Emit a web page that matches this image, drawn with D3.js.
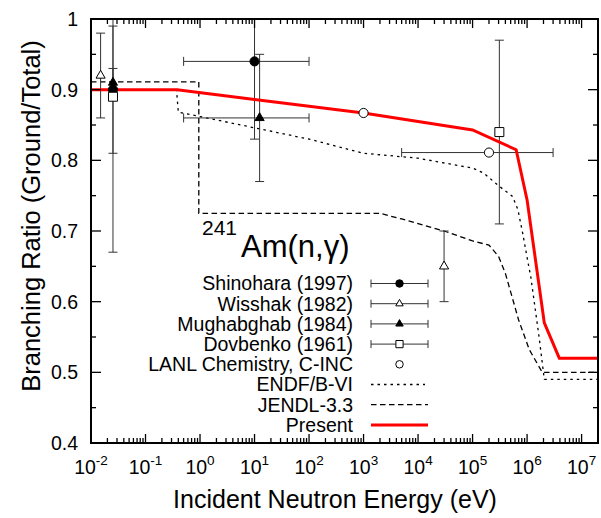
<!DOCTYPE html>
<html>
<head>
<meta charset="utf-8">
<script src="https://cdn.jsdelivr.net/npm/d3@7"></script>
<style>
  body { margin: 0; background: #fff; }
  text { font-family: "Liberation Sans", Arial, sans-serif; fill: #000; }
</style>
</head>
<body>
<div id="vis"></div>
<script>
// evaluated curves, [energy (eV), ratio]
var present = [[0.01, 0.9], [0.38, 0.9], [10, 0.886], [1e3, 0.867], [1e5, 0.843],
  [6.3e5, 0.815], [1e6, 0.744], [2.07e6, 0.57], [3.9e6, 0.52], [2e7, 0.52]];
var endf = [[0.01, 0.9], [0.37, 0.9], [0.4, 0.868], [1, 0.862], [10, 0.846], [100, 0.83],
  [1e3, 0.81], [1e4, 0.803], [1e5, 0.789], [1.6e5, 0.782], [3e5, 0.764], [5.4e5, 0.749],
  [6.8e5, 0.73], [8.3e5, 0.697], [1.02e6, 0.659], [1.17e6, 0.635], [1.66e6, 0.55],
  [2.07e6, 0.49], [2e7, 0.49]];
var jendl = [[0.01, 0.911], [0.95, 0.911], [0.95, 0.725], [2e3, 0.725], [5e3, 0.717],
  [3e4, 0.70], [1e5, 0.686], [2e5, 0.68], [3e5, 0.664], [4e5, 0.64], [7e5, 0.574],
  [1.1e6, 0.532], [1.9e6, 0.50], [2e7, 0.50]];

// measurements: e = energy, v = value, lo/hi = vertical bar, elo/ehi = horizontal bar
var shinohara = [{ e: 0.0253, v: 0.90, lo: 0.81, hi: 0.99 },
  { e: 10, v: 0.94, lo: 0.83, hi: 1.05, elo: 0.5, ehi: 100 }];
var wisshak = [{ e: 0.015, v: 0.92, lo: 0.86, hi: 0.98 },
  { e: 3e4, v: 0.65, lo: 0.60, hi: 0.70 }];
var mughabghab = [{ e: 0.0253, v: 0.91, lo: 0.89, hi: 0.93 },
  { e: 12.4, v: 0.86, lo: 0.77, hi: 0.95, elo: 0.5, ehi: 100 }];
var dovbenko = [{ e: 0.0253, v: 0.89, lo: 0.67, hi: 1.11 },
  { e: 3.1e5, v: 0.84, lo: 0.71, hi: 0.97 }];
var lanl = [{ e: 1e3, v: 0.867 }, { e: 2e5, v: 0.811, elo: 5e3, ehi: 3e6 }];

var yTicks = [0.4, 0.5, 0.6, 0.7, 0.8, 0.9, 1];
var xDecades = [-2, -1, 0, 1, 2, 3, 4, 5, 6, 7];

var legendRows = ['Shinohara (1997)', 'Wisshak (1982)', 'Mughabghab (1984)', 'Dovbenko (1961)',
  'LANL Chemistry, C-INC', 'ENDF/B-VI', 'JENDL-3.3', 'Present'];

var W = 601, H = 518;
var margin = { top: 19, left: 91, right: 3, bottom: 75 };
var x = d3.scaleLog().domain([0.01, 2e7]).range([margin.left, W - margin.right]);
var y = d3.scaleLinear().domain([0.4, 1]).range([H - margin.bottom, margin.top]);

var svg = d3.select('#vis').append('svg').attr('width', W).attr('height', H);

svg.append('clipPath').attr('id', 'clip').append('rect')
  .attr('x', x.range()[0]).attr('y', y.range()[1])
  .attr('width', x.range()[1] - x.range()[0]).attr('height', y.range()[0] - y.range()[1]);

var plot = svg.append('g').attr('clip-path', 'url(#clip)');

// curves
var line = d3.line().x(function (d) { return x(d[0]); }).y(function (d) { return y(d[1]); });
plot.append('path').datum(endf).attr('d', line).attr('fill', 'none')
  .attr('stroke', '#000').attr('stroke-width', 1.3).attr('stroke-dasharray', '2.5,4');
plot.append('path').datum(jendl).attr('d', line).attr('fill', 'none')
  .attr('stroke', '#000').attr('stroke-width', 1.3).attr('stroke-dasharray', '5.5,3.5');

// error bars
var barColor = '#333';
function errorBars(data) {
  data.forEach(function (d) {
    var cx = x(d.e), cy = y(d.v);
    if (d.lo !== undefined) {
      plot.append('line').attr('x1', cx).attr('x2', cx).attr('y1', y(d.lo)).attr('y2', y(d.hi))
        .attr('stroke', barColor).attr('stroke-width', 1);
      [d.lo, d.hi].forEach(function (v) {
        plot.append('line').attr('x1', cx - 4.5).attr('x2', cx + 4.5).attr('y1', y(v)).attr('y2', y(v))
          .attr('stroke', barColor).attr('stroke-width', 1);
      });
    }
    if (d.elo !== undefined) {
      plot.append('line').attr('x1', x(d.elo)).attr('x2', x(d.ehi)).attr('y1', cy).attr('y2', cy)
        .attr('stroke', barColor).attr('stroke-width', 1);
      [d.elo, d.ehi].forEach(function (e) {
        plot.append('line').attr('x1', x(e)).attr('x2', x(e)).attr('y1', cy - 4.5).attr('y2', cy + 4.5)
          .attr('stroke', barColor).attr('stroke-width', 1);
      });
    }
  });
}
[shinohara, wisshak, mughabghab, dovbenko, lanl].forEach(errorBars);

// present evaluation on top of bars
plot.append('path').datum(present).attr('d', line).attr('fill', 'none')
  .attr('stroke', '#ff0000').attr('stroke-width', 3);

// markers
var markers = [
  { data: shinohara, type: d3.symbolCircle, size: 66, fill: '#000' },
  { data: wisshak, type: d3.symbolTriangle, size: 36, fill: '#fff' },
  { data: mughabghab, type: d3.symbolTriangle, size: 36, fill: '#000' },
  { data: dovbenko, type: d3.symbolSquare, size: 81, fill: '#fff' },
  { data: lanl, type: d3.symbolCircle, size: 66, fill: '#fff' }
];
markers.forEach(function (m) {
  plot.selectAll(null).data(m.data).enter().append('path')
    .attr('d', d3.symbol().type(m.type).size(m.size))
    .attr('transform', function (d) { return 'translate(' + x(d.e) + ',' + y(d.v) + ')'; })
    .attr('fill', m.fill).attr('stroke', '#000').attr('stroke-width', 1);
});

// frame and ticks
var x0 = x.range()[0], x1 = x.range()[1], y0 = y.range()[0], y1 = y.range()[1];
var axes = svg.append('g').attr('stroke', '#000');
xDecades.forEach(function (p) {
  for (var k = 1; k <= 9; k++) {
    var e = k * Math.pow(10, p);
    if (e > 2e7) break;
    var len = k === 1 ? 9 : 5;
    var px = x(e);
    axes.append('line').attr('x1', px).attr('x2', px).attr('y1', y0).attr('y2', y0 - len).attr('stroke-width', 1.3);
    axes.append('line').attr('x1', px).attr('x2', px).attr('y1', y1).attr('y2', y1 + len).attr('stroke-width', 1.3);
  }
});
d3.range(0.4, 1.001, 0.05).forEach(function (v) {
  var major = Math.round(v * 100) % 10 === 0;
  var len = major ? 10 : 5;
  axes.append('line').attr('x1', x0).attr('x2', x0 + len).attr('y1', y(v)).attr('y2', y(v)).attr('stroke-width', 1.3);
  axes.append('line').attr('x1', x1).attr('x2', x1 - len).attr('y1', y(v)).attr('y2', y(v)).attr('stroke-width', 1.3);
});
axes.append('rect').attr('x', x0).attr('y', y1).attr('width', x1 - x0).attr('height', y0 - y1)
  .attr('fill', 'none').attr('stroke-width', 2);

// tick labels
svg.selectAll('.ylab').data(yTicks).enter().append('text')
  .attr('x', 78).attr('y', function (d) { return y(d) + 7; })
  .attr('text-anchor', 'end').style('font-size', '19.5px')
  .text(function (d) { return d === 1 ? '1' : d.toFixed(1); });

xDecades.forEach(function (p) {
  var t = svg.append('text').attr('x', x(Math.pow(10, p))).attr('y', 474)
    .attr('text-anchor', 'middle').style('font-size', '19.5px');
  t.append('tspan').text('10');
  t.append('tspan').attr('dy', -9).style('font-size', '13.5px').text(String(p));
});

// axis titles
svg.append('text').attr('x', 335).attr('y', 508).attr('text-anchor', 'middle')
  .style('font-size', '25px').text('Incident Neutron Energy (eV)');
svg.append('text').attr('transform', 'translate(40,216) rotate(-90)').attr('text-anchor', 'middle')
  .style('font-size', '25.5px').text('Branching Ratio (Ground/Total)');

// reaction label
var lab = svg.append('text').attr('x', 202).attr('y', 235);
lab.append('tspan').style('font-size', '21px').text('241');
svg.append('text').attr('x', 241).attr('y', 257).style('font-size', '31px').text('Am(n,\u03b3)');

// legend
var lg = svg.append('g');
var rowY = function (i) { return 283.5 + i * 20.2; };
lg.selectAll('text').data(legendRows).enter().append('text')
  .attr('x', 353).attr('y', function (d, i) { return rowY(i) + 6.8; })
  .attr('text-anchor', 'end').style('font-size', '19.5px').text(function (d) { return d; });

var lx0 = 371, lx1 = 428, lxc = 399.5;
var legendMarks = [
  { type: d3.symbolCircle, size: 44, fill: '#000', bar: true },
  { type: d3.symbolTriangle, size: 24, fill: '#fff', bar: true },
  { type: d3.symbolTriangle, size: 24, fill: '#000', bar: true },
  { type: d3.symbolSquare, size: 52, fill: '#fff', bar: true },
  { type: d3.symbolCircle, size: 44, fill: '#fff', bar: false }
];
legendMarks.forEach(function (m, i) {
  var cy = rowY(i);
  if (m.bar) {
    lg.append('line').attr('x1', lx0).attr('x2', lx1).attr('y1', cy).attr('y2', cy).attr('stroke', barColor);
    [lx0, lx1].forEach(function (px) {
      lg.append('line').attr('x1', px).attr('x2', px).attr('y1', cy - 4).attr('y2', cy + 4).attr('stroke', barColor);
    });
  }
  lg.append('path').attr('d', d3.symbol().type(m.type).size(m.size)())
    .attr('transform', 'translate(' + lxc + ',' + cy + ')')
    .attr('fill', m.fill).attr('stroke', '#000');
});
lg.append('line').attr('x1', lx0).attr('x2', lx1 - 3).attr('y1', rowY(5)).attr('y2', rowY(5))
  .attr('stroke', '#000').attr('stroke-width', 1.3).attr('stroke-dasharray', '2.5,4');
lg.append('line').attr('x1', lx0).attr('x2', lx1).attr('y1', rowY(6)).attr('y2', rowY(6))
  .attr('stroke', '#000').attr('stroke-width', 1.3).attr('stroke-dasharray', '5.5,3.5');
lg.append('line').attr('x1', lx0).attr('x2', lx1).attr('y1', rowY(7)).attr('y2', rowY(7))
  .attr('stroke', '#ff0000').attr('stroke-width', 3);
</script>
</body>
</html>
